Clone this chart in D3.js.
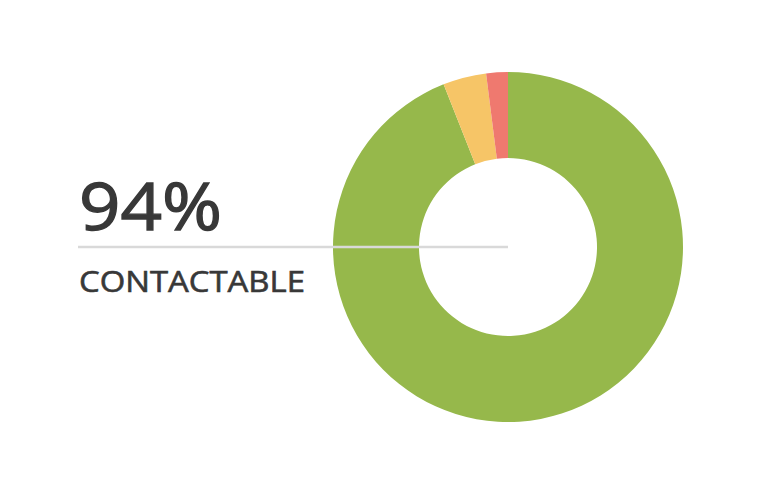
<!DOCTYPE html>
<html>
<head>
<meta charset="utf-8">
<script src="https://cdn.jsdelivr.net/npm/d3@7"></script>
<style>
  html, body { margin: 0; padding: 0; background: #fff; }
  svg text { font-family: "Open Sans", Lato, sans-serif; fill: #383838; stroke: #383838; }
</style>
</head>
<body>
<div class="chart"></div>
<script>
var svgWidth = 768;
var svgHeight = 491;

// share of records by status
var categories = ["Contactable", "Partial", "Not contactable"];
var values = [94, 4, 2];
var colors = ["#96b84b", "#f6c567", "#ef796f"];
var headline = "94%";
var caption = "CONTACTABLE";

var cx = 508, cy = 247;
var outerR = 175, innerR = 89;

var svg = d3.select(".chart")
  .append("svg")
  .attr("width", svgWidth)
  .attr("height", svgHeight);

var pie = d3.pie().sort(null).value(d => d);
var arc = d3.arc().innerRadius(innerR).outerRadius(outerR);

var donut = svg.append("g")
  .attr("transform", `translate(${cx}, ${cy})`);

donut.selectAll("path")
  .data(pie(values))
  .enter()
  .append("path")
  .attr("d", arc)
  .attr("fill", (d, i) => colors[i]);

// leader line from label to centre
svg.append("line")
  .attr("x1", 78)
  .attr("x2", cx)
  .attr("y1", cy)
  .attr("y2", cy)
  .attr("stroke", "#d9d9d9")
  .attr("stroke-width", 2.5);

// stretched and thickened a bit to match the wider original face
svg.append("text")
  .attr("x", 79)
  .attr("y", 230)
  .attr("textLength", 143)
  .attr("lengthAdjust", "spacingAndGlyphs")
  .style("font-size", "66px")
  .style("stroke-width", 1.3)
  .text(headline);

svg.append("text")
  .attr("x", 79)
  .attr("y", 292)
  .attr("textLength", 226)
  .attr("lengthAdjust", "spacingAndGlyphs")
  .style("font-size", "29.5px")
  .style("stroke-width", 0.6)
  .text(caption);
</script>
</body>
</html>
